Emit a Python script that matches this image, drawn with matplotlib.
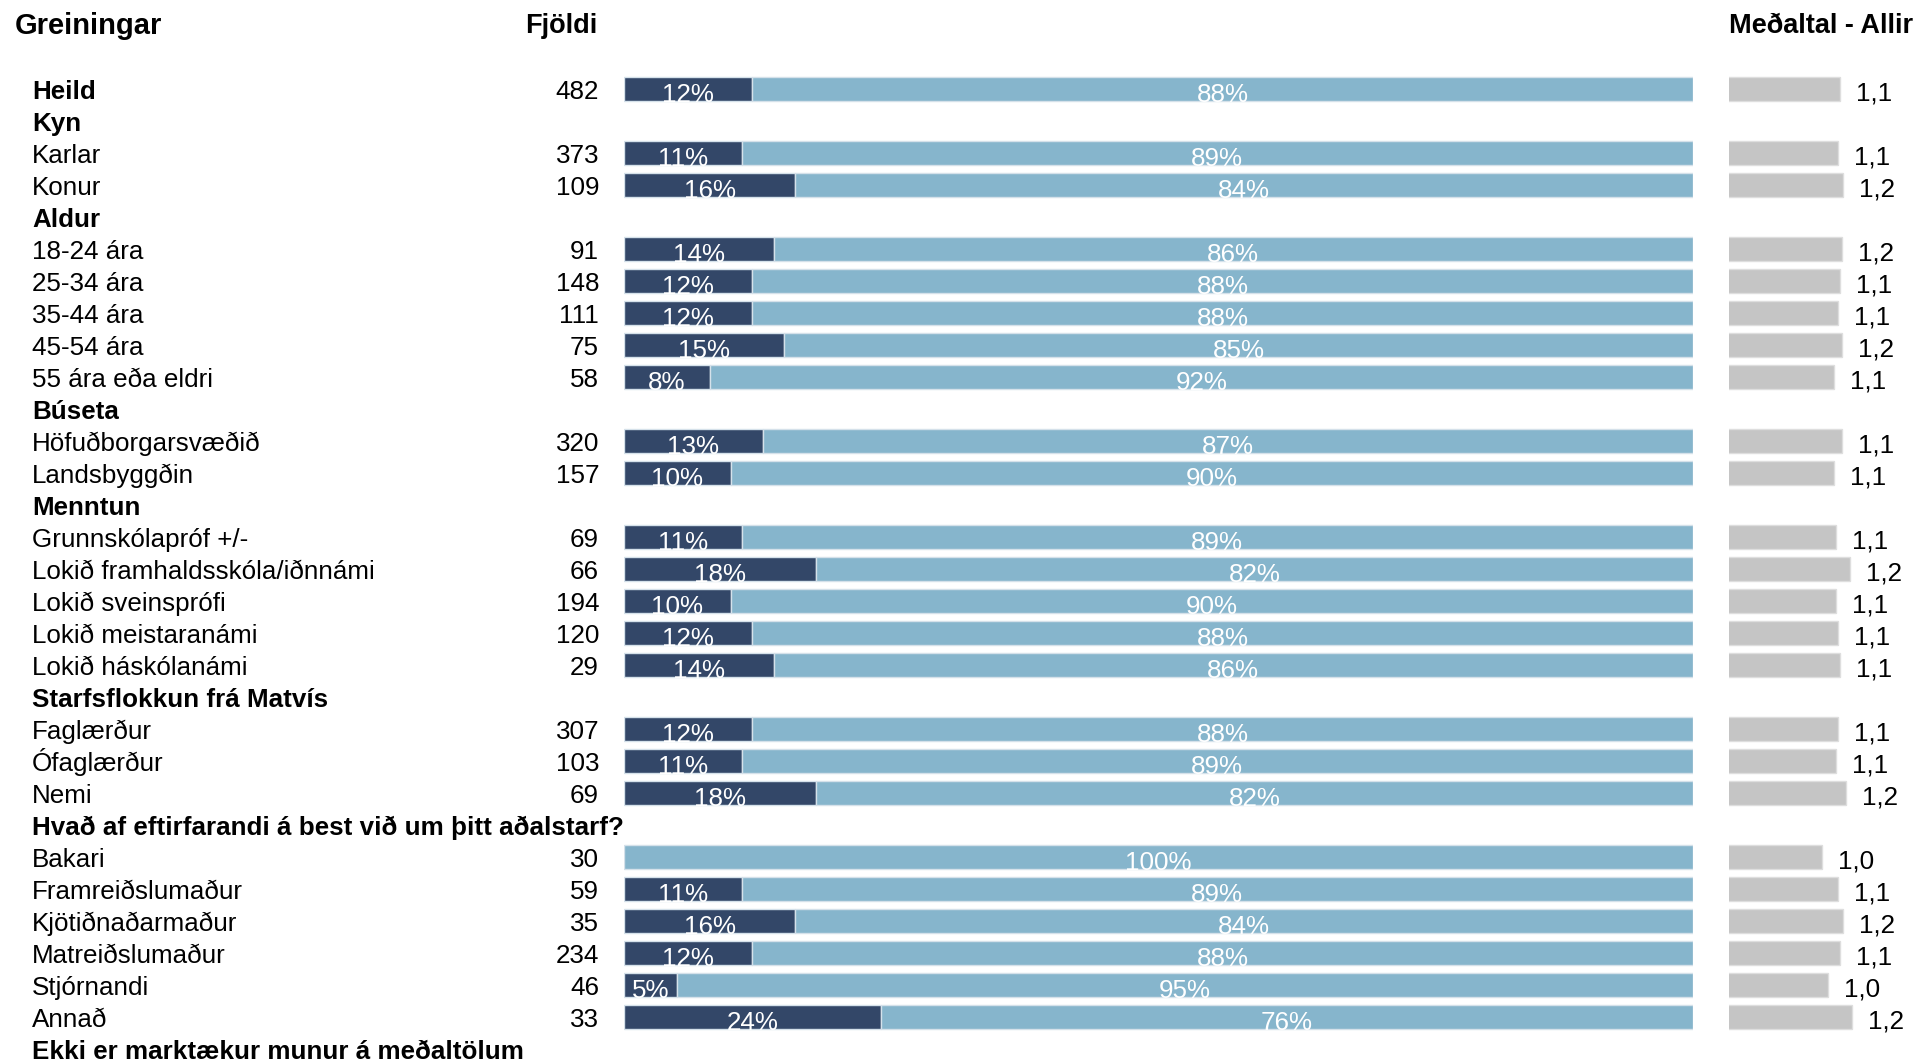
import matplotlib
matplotlib.use("Agg")
import matplotlib.pyplot as plt
import matplotlib.transforms as mtransforms

plt.rcParams['font.family'] = ['Liberation Sans', 'DejaVu Sans']

# rows from top to bottom; None = section heading without data
row_labels = ["Heild", "Kyn", "Karlar", "Konur", "Aldur", "18-24 ára", "25-34 ára",
              "35-44 ára", "45-54 ára", "55 ára eða eldri", "Búseta", "Höfuðborgarsvæðið",
              "Landsbyggðin", "Menntun", "Grunnskólapróf +/-", "Lokið framhaldsskóla/iðnnámi",
              "Lokið sveinsprófi", "Lokið meistaranámi", "Lokið háskólanámi",
              "Starfsflokkun frá Matvís", "Faglærður", "Ófaglærður", "Nemi",
              "Hvað af eftirfarandi á best við um þitt aðalstarf?", "Bakari",
              "Framreiðslumaður", "Kjötiðnaðarmaður", "Matreiðslumaður", "Stjórnandi",
              "Annað", "Ekki er marktækur munur á meðaltölum"]
bold_rows = ["Heild", "Kyn", "Aldur", "Búseta", "Menntun", "Starfsflokkun frá Matvís",
             "Hvað af eftirfarandi á best við um þitt aðalstarf?",
             "Ekki er marktækur munur á meðaltölum"]
counts = [482, None, 373, 109, None, 91, 148, 111, 75, 58, None, 320, 157, None,
          69, 66, 194, 120, 29, None, 307, 103, 69, None, 30, 59, 35, 234, 46, 33, None]
pct_dark = [12, None, 11, 16, None, 14, 12, 12, 15, 8, None, 13, 10, None,
            11, 18, 10, 12, 14, None, 12, 11, 18, None, 0, 11, 16, 12, 5, 24, None]
pct_light = [88, None, 89, 84, None, 86, 88, 88, 85, 92, None, 87, 90, None,
             89, 82, 90, 88, 86, None, 88, 89, 82, None, 100, 89, 84, 88, 95, 76, None]
means = [1.134, None, 1.116, 1.155, None, 1.153, 1.134, 1.116, 1.153, 1.079, None, 1.148, 1.079, None,
         1.097, 1.227, 1.097, 1.116, 1.134, None, 1.116, 1.097, 1.19, None,
         0.967, 1.115, 1.156, 1.133, 1.022, 1.244, None]

dark_col = '#334768'
light_col = '#86b5cc'
grey_col = '#c5c5c5'
edge_col = '#d5e1ea'

W, H = 1916, 1060
row0, step = 89, 32.0
ytop = -row0 / step
ybot = (H - row0) / step

fig = plt.figure(figsize=(W / 100, H / 100), dpi=100)

ax = fig.add_axes([624 / W, 0, (1693 - 624) / W, 1])
ax.set_xlim(0, 100)
ax.set_ylim(ybot, ytop)
ax.axis('off')

m0, ppu = 0.1, 108.0
axm = fig.add_axes([1728.7 / W, 0, (W - 1728.7) / W, 1])
axm.set_xlim(m0, m0 + (W - 1728.7) / ppu)
axm.set_ylim(ybot, ytop)
axm.axis('off')

tr = mtransforms.blended_transform_factory(fig.transFigure, ax.transData)
fs = 18.7
bh = 0.76

for i, lab in enumerate(row_labels):
    bold = lab in bold_rows
    ax.text(32 / W, i + 0.30, lab, transform=tr, ha='left', va='baseline',
            fontsize=fs, fontweight='bold' if bold else 'normal', color='black')
    if counts[i] is None:
        continue
    ax.text(599 / W, i + 0.30, str(counts[i]), transform=tr, ha='right', va='baseline',
            fontsize=fs, color='black')
    d, l = pct_dark[i], pct_light[i]
    ax.barh(i, d, height=bh, color=dark_col, edgecolor=edge_col, linewidth=1)
    ax.barh(i, l, left=d, height=bh, color=light_col, edgecolor=edge_col, linewidth=1)
    if d > 0:
        ax.text(d / 2, i + 0.40, f"{d}%", ha='center', va='baseline', fontsize=fs, color='white')
    ax.text(d + l / 2, i + 0.40, f"{l}%", ha='center', va='baseline', fontsize=fs, color='white')
    axm.barh(i, means[i], height=bh, color=grey_col, edgecolor='#dedede', linewidth=1)
    axm.annotate(f"{means[i]:.1f}".replace('.', ','), (means[i], i), xytext=(16, -4),
                 textcoords='offset pixels', ha='left', va='center', fontsize=fs,
                 color='black')

hy = (26 - row0) / step
ax.text(15 / W, hy, "Greiningar", transform=tr, ha='left', va='center',
        fontsize=21, fontweight='bold')
ax.text(597 / W, hy, "Fjöldi", transform=tr, ha='right', va='center',
        fontsize=19.5, fontweight='bold')
ax.text(1729 / W, hy, "Meðaltal - Allir", transform=tr, ha='left', va='center',
        fontsize=19.5, fontweight='bold')

fig.savefig("out.png", dpi=100)
